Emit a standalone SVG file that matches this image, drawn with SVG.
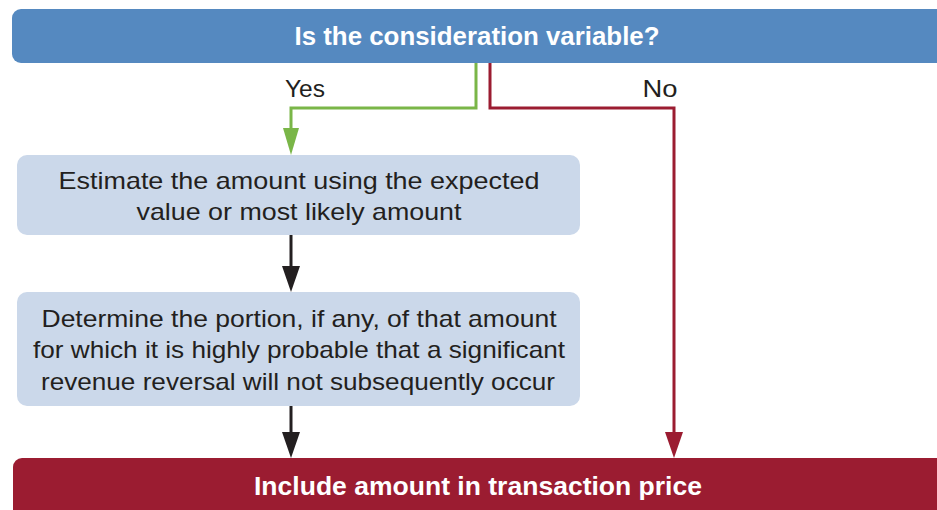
<svg xmlns="http://www.w3.org/2000/svg" width="937" height="510" viewBox="0 0 937 510">
<style>
.hdr{font-family:"Liberation Sans Narrow","Liberation Sans",Arial,sans-serif;font-weight:bold;font-size:25px;fill:#fff;text-anchor:middle}
.body{font-family:"Liberation Sans",Arial,sans-serif;font-size:24px;fill:#231f20;text-anchor:middle}
.lbl{font-family:"Liberation Sans",Arial,sans-serif;font-size:24px;fill:#231f20;text-anchor:middle}
.box{fill:#cbd8ea}
.ln{fill:none;stroke-width:3}
</style>
<rect width="937" height="510" fill="#fff"/>
<g id="top">
<rect x="12" y="9" width="940" height="54" rx="9" fill="#5589c0"/>
<text class="hdr" x="477" y="45" textLength="365" lengthAdjust="spacingAndGlyphs">Is the consideration variable?</text>
</g>
<g id="estimate">
<rect class="box" x="17" y="155" width="563" height="80" rx="10"/>
<text class="body" x="299" y="189" textLength="481" lengthAdjust="spacingAndGlyphs">Estimate the amount using the expected</text>
<text class="body" x="299" y="220" textLength="325" lengthAdjust="spacingAndGlyphs">value or most likely amount</text>
</g>
<g id="determine">
<rect class="box" x="17" y="292" width="563" height="114" rx="10"/>
<text class="body" x="299" y="327" textLength="515" lengthAdjust="spacingAndGlyphs">Determine the portion, if any, of that amount</text>
<text class="body" x="299" y="358" textLength="532" lengthAdjust="spacingAndGlyphs">for which it is highly probable that a significant</text>
<text class="body" x="298" y="390" textLength="514" lengthAdjust="spacingAndGlyphs">revenue reversal will not subsequently occur</text>
</g>
<g id="include">
<rect x="13" y="458" width="940" height="70" rx="9" fill="#9b1c31"/>
<text class="hdr" x="478" y="495" textLength="448" lengthAdjust="spacingAndGlyphs">Include amount in transaction price</text>
</g>
<g id="connectors">
<path class="ln" stroke="#7ab648" d="M476,63 V108 H291 V130"/>
<path d="M283,128 L299,128 L291,155 Z" fill="#7ab648"/>
<path class="ln" stroke="#9b1c31" d="M490,63 V108 H674 V436"/>
<path d="M665,432 L683,432 L674,458 Z" fill="#9b1c31"/>
<path class="ln" stroke="#231f20" d="M291,235 V270"/>
<path d="M282,266 L300,266 L291,292 Z" fill="#231f20"/>
<path class="ln" stroke="#231f20" d="M291,406 V436"/>
<path d="M282,432 L300,432 L291,458 Z" fill="#231f20"/>
<text class="lbl" x="305" y="97" textLength="40" lengthAdjust="spacingAndGlyphs">Yes</text>
<text class="lbl" x="660" y="97" textLength="35" lengthAdjust="spacingAndGlyphs">No</text>
</g>
</svg>
